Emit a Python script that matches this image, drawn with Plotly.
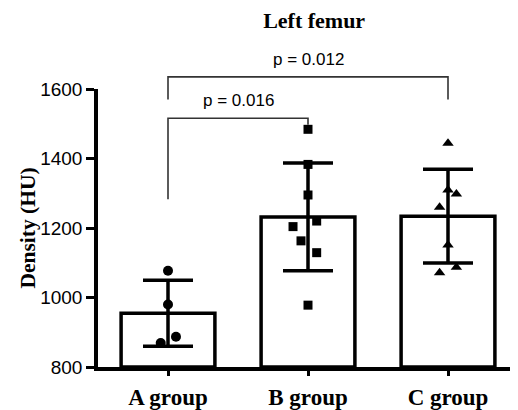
import plotly.graph_objects as go

# ---- data ----
groups = ["A group", "B group", "C group"]
means = [955, 1232, 1234]
sds = [95, 155, 135]

a_points = [1077, 980, 869, 887]
a_jitter = [0.0, 0.0, -0.052, 0.057]
b_points = [1484, 1383, 1295, 1220, 1204, 1163, 1129, 978]
b_jitter = [0.0, 0.0, 0.0, 0.062, -0.107, -0.05, 0.062, 0.0]
c_points = [1444, 1309, 1298, 1260, 1151, 1087, 1071]
c_jitter = [0.0, 0.0, 0.06, -0.06, 0.0, 0.06, -0.06]

y_ticks = [800, 1000, 1200, 1400, 1600]
y_range = [800, 1600]

# significance brackets: (left group, right group, top, left arm end, right arm end, label)
brackets = [
    (0, 1, 1516, 1283, 1497, "p = 0.016"),
    (0, 2, 1635, 1570, 1570, "p = 0.012"),
]

xpos = list(range(len(groups)))
x_range = [-0.5, 2.5]


def yfrac(v):
    return (v - y_range[0]) / (y_range[1] - y_range[0])


def xfrac(v):
    return (v - x_range[0]) / (x_range[1] - x_range[0])


fig = go.Figure()
fig.add_trace(go.Bar(
    x=xpos, y=[m - y_range[0] for m in means], base=y_range[0], width=0.67,
    marker=dict(color="white", line=dict(color="black", width=3.5)),
    error_y=dict(type="data", array=sds, visible=True, color="black",
                 thickness=3.5, width=25),
    showlegend=False, hoverinfo="skip",
))

point_sets = [
    (a_points, a_jitter, 0, "circle", 10),
    (b_points, b_jitter, 1, "square", 9),
    (c_points, c_jitter, 2, "triangle-up", 10),
]
for pts, jit, gi, sym, sz in point_sets:
    fig.add_trace(go.Scatter(
        x=[gi + j for j in jit], y=pts, mode="markers", cliponaxis=False,
        marker=dict(symbol=sym, size=sz, color="black", line=dict(width=0)),
        showlegend=False,
    ))

shapes = []
annotations = []
for g0, g1, top, l_end, r_end, label in brackets:
    x0, x1 = xfrac(g0), xfrac(g1)
    shapes.append(dict(type="path", xref="paper", yref="paper",
                       path=(f"M {x0},{yfrac(l_end)} L {x0},{yfrac(top)} "
                             f"L {x1},{yfrac(top)} L {x1},{yfrac(r_end)}"),
                       line=dict(color="#333333", width=1.6)))
    annotations.append(dict(x=(g0 + g1) / 2, y=yfrac(top), xref="x", yref="paper",
                            text=label, showarrow=False, yanchor="bottom", yshift=6,
                            font=dict(family="Liberation Sans, Arial", size=17, color="black")))

fig.update_layout(
    width=518, height=410,
    margin=dict(l=90, r=8, t=81, b=51),
    plot_bgcolor="white", paper_bgcolor="white",
    title=dict(text="<b>Left femur</b>", x=0.591, xref="container", xanchor="center",
               y=1 - 12 / 410, yref="container", yanchor="middle",
               font=dict(family="Liberation Serif, Times New Roman", size=22, color="black")),
    shapes=shapes, annotations=annotations,
    xaxis=dict(range=x_range, tickvals=xpos, ticktext=[f"<b>{g}</b>" for g in groups],
               showline=True, linecolor="black", linewidth=3.5, automargin=False,
               ticks="outside", ticklen=5, tickwidth=3, tickcolor="black",
               ticklabelstandoff=2,
               showgrid=False, zeroline=False,
               tickfont=dict(family="Liberation Serif, Times New Roman", size=23, color="black")),
    yaxis=dict(range=y_range, tickvals=y_ticks, showline=True, linecolor="black",
               linewidth=3.5, automargin=False,
               ticks="outside", ticklen=8, tickwidth=3, tickcolor="black",
               showgrid=False, zeroline=False,
               tickfont=dict(family="Liberation Sans, Arial", size=19, color="black"),
               title=dict(text="<b>Density (HU)</b>", standoff=0,
                          font=dict(family="Liberation Serif, Times New Roman", size=21.5, color="black"))),
)

fig.write_html("out.html")
